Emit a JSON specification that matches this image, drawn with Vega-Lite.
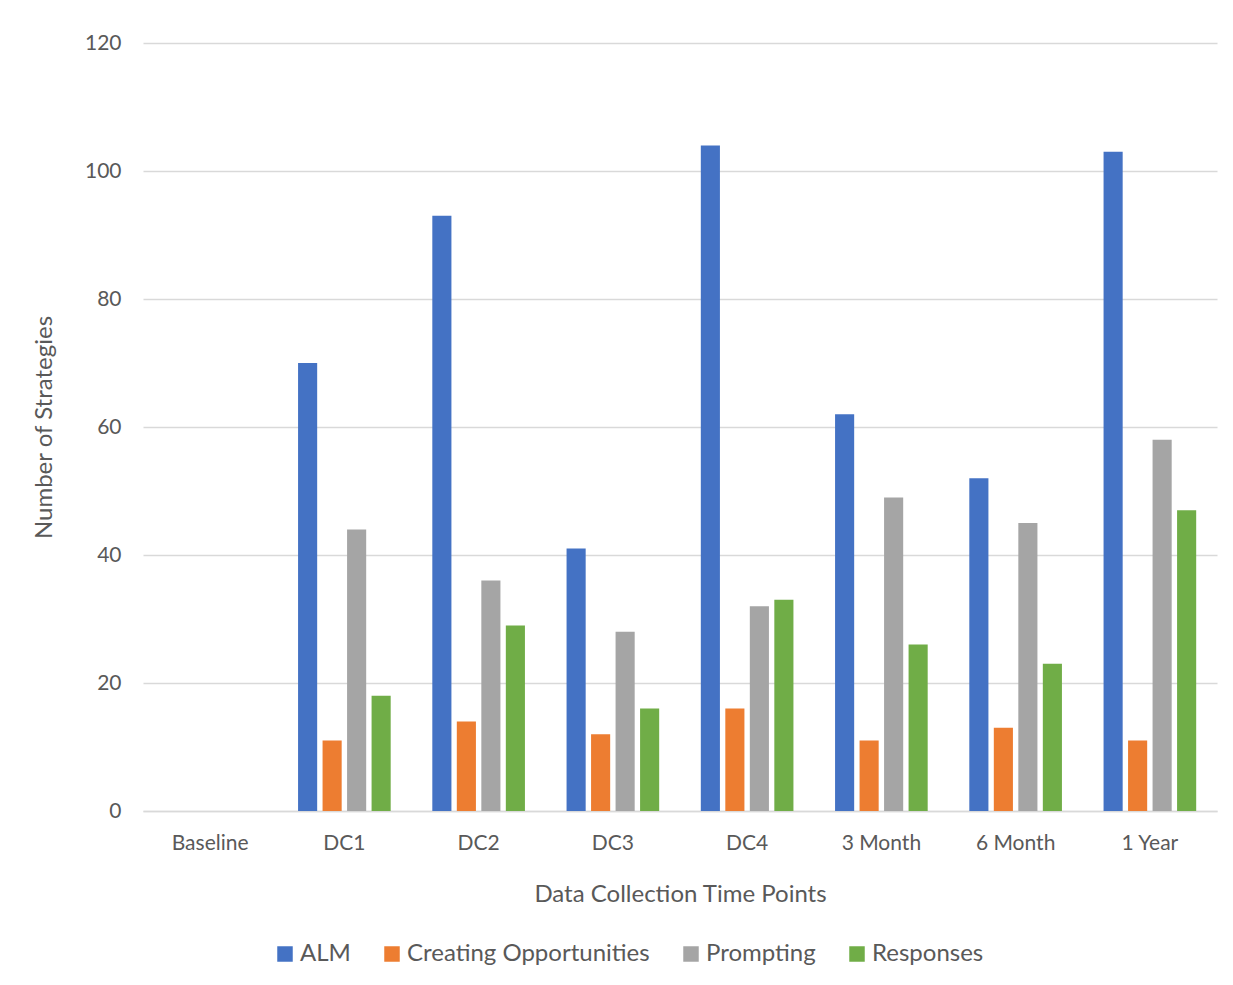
{
  "$schema": "https://vega.github.io/schema/vega-lite/v6.json",
  "width": 1074,
  "height": 768,
  "autosize": {"type": "none"},
  "padding": {"left": 143, "top": 43, "right": 16, "bottom": 174},
  "background": "white",
  "data": {"values": [
    {"time": "Baseline", "strategy": "ALM", "count": 0},
    {"time": "Baseline", "strategy": "Creating Opportunities", "count": 0},
    {"time": "Baseline", "strategy": "Prompting", "count": 0},
    {"time": "Baseline", "strategy": "Responses", "count": 0},
    {"time": "DC1", "strategy": "ALM", "count": 70},
    {"time": "DC1", "strategy": "Creating Opportunities", "count": 11},
    {"time": "DC1", "strategy": "Prompting", "count": 44},
    {"time": "DC1", "strategy": "Responses", "count": 18},
    {"time": "DC2", "strategy": "ALM", "count": 93},
    {"time": "DC2", "strategy": "Creating Opportunities", "count": 14},
    {"time": "DC2", "strategy": "Prompting", "count": 36},
    {"time": "DC2", "strategy": "Responses", "count": 29},
    {"time": "DC3", "strategy": "ALM", "count": 41},
    {"time": "DC3", "strategy": "Creating Opportunities", "count": 12},
    {"time": "DC3", "strategy": "Prompting", "count": 28},
    {"time": "DC3", "strategy": "Responses", "count": 16},
    {"time": "DC4", "strategy": "ALM", "count": 104},
    {"time": "DC4", "strategy": "Creating Opportunities", "count": 16},
    {"time": "DC4", "strategy": "Prompting", "count": 32},
    {"time": "DC4", "strategy": "Responses", "count": 33},
    {"time": "3 Month", "strategy": "ALM", "count": 62},
    {"time": "3 Month", "strategy": "Creating Opportunities", "count": 11},
    {"time": "3 Month", "strategy": "Prompting", "count": 49},
    {"time": "3 Month", "strategy": "Responses", "count": 26},
    {"time": "6 Month", "strategy": "ALM", "count": 52},
    {"time": "6 Month", "strategy": "Creating Opportunities", "count": 13},
    {"time": "6 Month", "strategy": "Prompting", "count": 45},
    {"time": "6 Month", "strategy": "Responses", "count": 23},
    {"time": "1 Year", "strategy": "ALM", "count": 103},
    {"time": "1 Year", "strategy": "Creating Opportunities", "count": 11},
    {"time": "1 Year", "strategy": "Prompting", "count": 58},
    {"time": "1 Year", "strategy": "Responses", "count": 47}
  ]},
  "mark": {"type": "bar"},
  "encoding": {
    "x": {
      "field": "time", "type": "nominal",
      "sort": ["Baseline", "DC1", "DC2", "DC3", "DC4", "3 Month", "6 Month", "1 Year"],
      "scale": {"paddingInner": 0.31, "paddingOuter": 0.155},
      "axis": {
        "title": "Data Collection Time Points",
        "labelAngle": 0, "labelFontSize": 21, "labelColor": "#595959", "labelPadding": 21,
        "ticks": false, "domainColor": "#D9D9D9", "domainWidth": 1.5,
        "titleFontSize": 24, "titleFontWeight": "normal", "titleColor": "#595959", "titlePadding": 29
      }
    },
    "xOffset": {
      "field": "strategy", "type": "nominal",
      "scale": {"paddingInner": 0.22}
    },
    "y": {
      "field": "count", "type": "quantitative",
      "scale": {"domain": [0, 120]},
      "axis": {
        "title": "Number of Strategies",
        "values": [0, 20, 40, 60, 80, 100, 120],
        "labelFontSize": 21, "labelColor": "#595959", "labelPadding": 22,
        "ticks": false, "domain": false,
        "gridColor": "#D9D9D9", "gridWidth": 1.5,
        "titleFontSize": 24, "titleFontWeight": "normal", "titleColor": "#595959", "titlePadding": 28
      }
    },
    "color": {
      "field": "strategy", "type": "nominal",
      "scale": {
        "domain": ["ALM", "Creating Opportunities", "Prompting", "Responses"],
        "range": ["#4472C4", "#ED7D31", "#A5A5A5", "#70AD47"]
      },
      "legend": {
        "title": null, "orient": "none", "direction": "horizontal",
        "legendX": 130, "legendY": 899,
        "symbolType": "square", "symbolSize": 240, "symbolStrokeWidth": 0,
        "labelFontSize": 24, "labelColor": "#595959", "labelOffset": 3, "labelLimit": 400,
        "columnPadding": 29
      }
    }
  },
  "config": {
    "font": "Lato",
    "view": {"stroke": null},
    "axis": {"labelFont": "Lato", "titleFont": "Lato"},
    "legend": {"labelFont": "Lato"}
  }
}
